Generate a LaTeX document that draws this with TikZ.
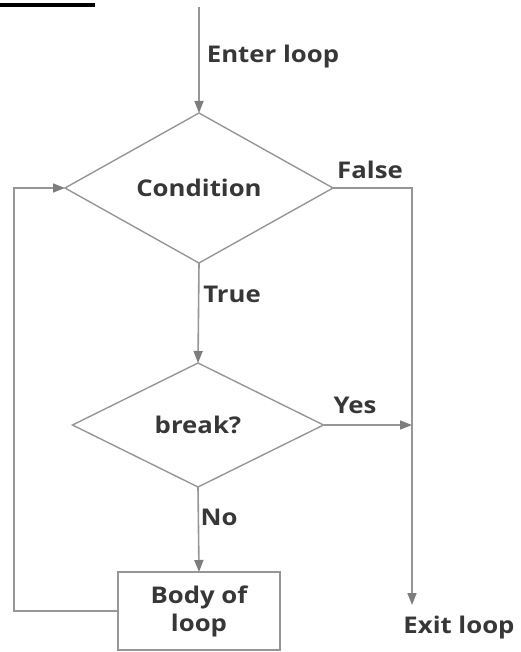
\documentclass[tikz,border=0pt]{standalone}
\usepackage{fontspec}
\setmainfont{Open Sans}[FakeStretch=1.12]
\usetikzlibrary{shapes.geometric,arrows.meta}
\definecolor{linegray}{RGB}{150,150,150}
\definecolor{tipgray}{RGB}{125,125,125}
\definecolor{textgray}{RGB}{55,55,55}
\tikzset{
  every node/.style={font=\bfseries\fontsize{23}{28}\selectfont, text=textgray},
  flow/.style={draw=linegray, line width=1.6pt},
  arr/.style={flow, -{Triangle[length=12pt,width=9pt,color=tipgray]}},
  decision/.style={diamond, draw=linegray, line width=1.4pt, inner sep=0pt, outer sep=0pt},
  stepbox/.style={rectangle, draw=linegray, line width=1.6pt, inner sep=0pt, outer sep=0pt,
    minimum width=162pt, minimum height=78pt, align=center},
  lbl/.style={inner sep=0pt}
}
\begin{document}
\begin{tikzpicture}[x=1pt,y=-1pt]
  \useasboundingbox (0,0) rectangle (521,652);
  % heading underline at the top edge
  \fill[black] (0,3) rectangle (95,7.5);

  % shapes
  \node[decision, minimum width=268pt, minimum height=150pt] (cond) at (199,188) {Condition};
  \node[decision, minimum width=251pt, minimum height=124pt] (brk) at (198,425) {break?};
  \node[stepbox] (body) at (199,611) {Body of\\loop};

  % labels
  \node[lbl] (enter) at (273,57) {Enter loop};
  \node[lbl] (false) at (370,170) {False};
  \node[lbl] (true) at (232,294) {True};
  \node[lbl] (yes) at (355,405) {Yes};
  \node[lbl] (no) at (219,517) {No};
  \node[lbl] (exit) at (459,628) {Exit loop};

  % helper points
  \coordinate (start) at (199,7);
  \coordinate (exitpt) at (412,605);
  \coordinate (join) at (412,425);
  \coordinate (loopx) at (14,0);

  % connectors
  \draw[arr] (start) -- (cond.north);
  \draw[arr] (cond.south) -- (brk.north);
  \draw[arr] (brk.south) -- (body.north);
  \draw[arr] (cond.east) -| (exitpt);
  \draw[arr] (brk.east) -- (join);
  \draw[arr] (body.west) -| (loopx |- cond.west) -- (cond.west);
\end{tikzpicture}
\end{document}
